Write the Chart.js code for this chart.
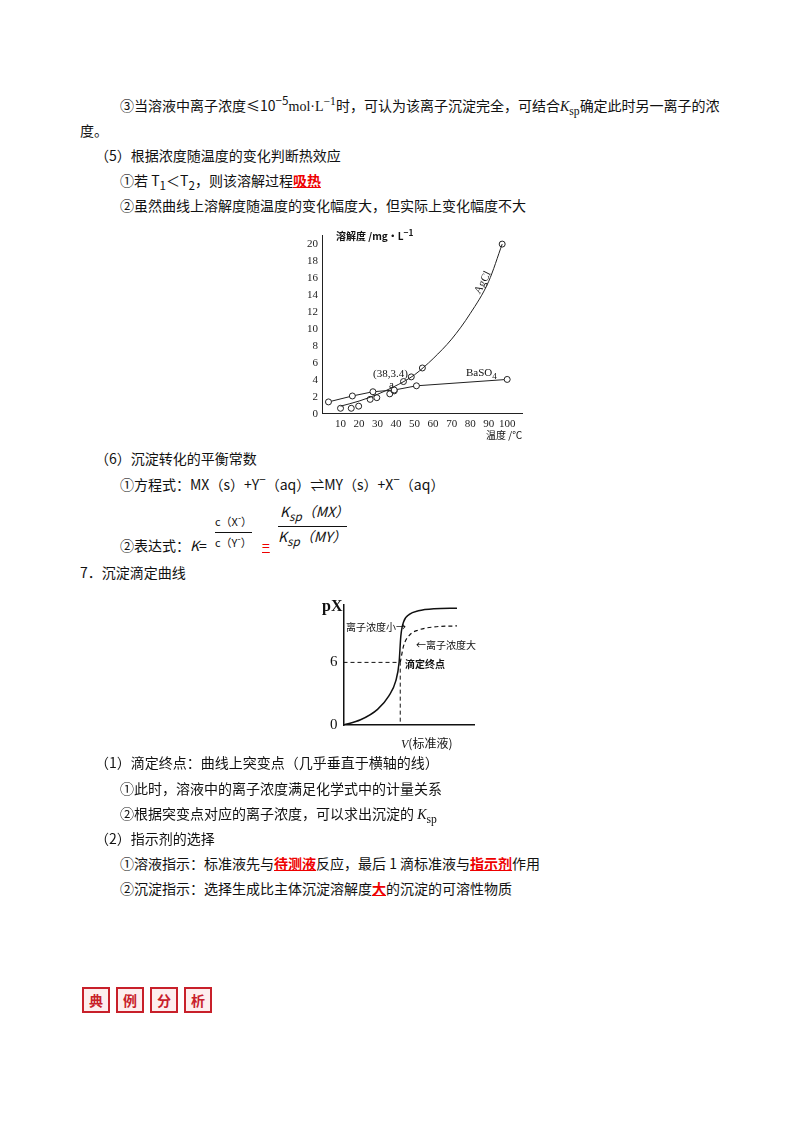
<!DOCTYPE html>
<html lang="zh">
<head>
<meta charset="UTF-8">
<title>沉淀溶解平衡</title>
<script src="https://cdn.jsdelivr.net/npm/chart.js"></script>
<style>
  body { margin: 0; width: 800px; height: 1132px; background: #fff; position: relative;
    font-family: "Noto Sans CJK SC", "DejaVu Serif", serif; font-size: 14px; color: #111; }
  .t { position: absolute; line-height: 18px; white-space: nowrap; }
  .red { color: #e00; font-weight: bold; text-decoration: underline; }
  .sm { font-family: "Liberation Serif", serif; }
  sup, sub { line-height: 0; }
  .box { position: absolute; }
  .lbl { position: absolute; font-family: "Liberation Serif", serif; font-size: 11px; white-space: nowrap; }
  .ann { position: absolute; font-size: 10px; white-space: nowrap; }
  .badge { display: inline-block; width: 24px; height: 22px; border: 2px solid #c8202a; color: #c8202a;
    font-weight: bold; text-align: center; line-height: 22px; margin-right: 6px; background: #fdeeee; }
</style>
</head>
<body>
<div class="t" style="left:120px;top:96px">③当溶液中离子浓度≤10<sup>−5</sup><span class="sm">mol·L<sup>−1</sup></span>时，可认为该离子沉淀完全，可结合<i class="sm">K</i><sub class="sm">sp</sub>确定此时另一离子的浓</div>
<div class="t" style="left:80px;top:121px">度。</div>
<div class="t" style="left:95px;top:146px">（5）根据浓度随温度的变化判断热效应</div>
<div class="t" style="left:120px;top:171px">①若 T<sub>1</sub>＜T<sub>2</sub>，则该溶解过程<span class="red">吸热</span></div>
<div class="t" style="left:120px;top:196px">②虽然曲线上溶解度随温度的变化幅度大，但实际上变化幅度不大</div>

<div class="box" style="left:300px;top:228px;width:240px;height:218px"><canvas id="solChart"></canvas></div>
<div class="ann" style="left:336px;top:228px;font-weight:bold">溶解度 /mg·L<sup>−1</sup></div>
<div class="ann" style="left:486px;top:427px">温度 /℃</div>
<div class="lbl" style="left:470px;top:276px;transform:rotate(-62deg)">AgCl</div>
<div class="lbl" style="left:466px;top:366px">BaSO<sub>4</sub></div>
<div class="lbl" style="left:373px;top:367px">(38,3.4)</div>
<div class="lbl" style="left:389px;top:378px">a</div>

<div class="t" style="left:95px;top:449px">（6）沉淀转化的平衡常数</div>
<div class="t" style="left:120px;top:475px">①方程式：MX（s）+Y<sup>−</sup>（aq）⇌MY（s）+X<sup>−</sup>（aq）</div>
<div class="t" style="left:215px;top:512px;font-size:11px">c（X<sup>-</sup>）</div>
<div class="t" style="left:120px;top:536px">②表达式：<i>K</i>=</div>
<div class="t" style="left:215px;top:532px;font-size:11px;border-top:1px solid #111">c（Y<sup>-</sup>）</div>
<div class="t" style="left:262px;top:536px;color:#e00;text-decoration:underline">=</div>
<div class="t" style="left:280px;top:502px;font-style:italic">K<sub>sp</sub>（MX）</div>
<div class="t" style="left:278px;top:526px;font-style:italic;border-top:1px solid #111">K<sub>sp</sub>（MY）</div>

<div class="t" style="left:80px;top:563px">7．沉淀滴定曲线</div>
<div class="box" style="left:324px;top:590px;width:156px;height:150px"><canvas id="titChart"></canvas></div>
<div class="t" style="left:322px;top:597px;font-family:'Liberation Serif',serif;font-weight:bold;font-size:16px">pX</div>
<div class="t" style="left:401px;top:734px;font-size:12px"><i class="sm">V</i>(标准液)</div>
<div class="ann" style="left:346px;top:619px">离子浓度小→</div>
<div class="ann" style="left:416px;top:637px">←离子浓度大</div>
<div class="ann" style="left:405px;top:656px;font-weight:bold">滴定终点</div>

<div class="t" style="left:95px;top:753px">（1）滴定终点：曲线上突变点（几乎垂直于横轴的线）</div>
<div class="t" style="left:120px;top:779px">①此时，溶液中的离子浓度满足化学式中的计量关系</div>
<div class="t" style="left:120px;top:804px">②根据突变点对应的离子浓度，可以求出沉淀的 <i class="sm">K</i><sub class="sm">sp</sub></div>
<div class="t" style="left:95px;top:829px">（2）指示剂的选择</div>
<div class="t" style="left:120px;top:854px">①溶液指示：标准液先与<span class="red">待测液</span>反应，最后 1 滴标准液与<span class="red">指示剂</span>作用</div>
<div class="t" style="left:120px;top:879px">②沉淀指示：选择生成比主体沉淀溶解度<span class="red">大</span>的沉淀的可溶性物质</div>

<div class="t" style="left:82px;top:987px;line-height:26px"><span class="badge">典</span><span class="badge">例</span><span class="badge">分</span><span class="badge">析</span></div>

<script>
// solubility vs temperature
const baso4T = [3.5, 16.4, 27.5, 39, 51, 100];
const baso4S = [1.4, 2.1, 2.6, 2.8, 3.3, 4.05];
const agclPtT = [10, 15.8, 19.8, 26, 29.6, 36.6, 39, 44, 48.2, 54.2, 97.3];
const agclPtS = [0.65, 0.65, 0.9, 1.7, 1.9, 2.35, 2.7, 3.8, 4.35, 5.4, 20];
const agclCurveT = [10, 20, 30, 38, 45, 50, 55, 60, 70, 80, 90, 97.3];
const agclCurveS = [0.9, 1.5, 2.3, 3.1, 3.9, 4.6, 5.5, 6.5, 8.8, 11.8, 15.6, 20];
const yTicks = [0, 2, 4, 6, 8, 10, 12, 14, 16, 18, 20];
const xTicks = [10, 20, 30, 40, 50, 60, 70, 80, 90, 100];

// titration curves
const solidV = [0, 1.5, 3, 4, 4.6, 4.9, 5.05, 5.3, 5.8, 6.6, 8, 10];
const solidPX = [0, 0.5, 1.5, 2.8, 4.2, 6, 8.5, 9.9, 10.6, 10.95, 11.15, 11.2];
const dashV = [5, 5.3, 5.8, 6.6, 8, 10];
const dashPX = [6, 7.6, 8.6, 9.1, 9.4, 9.5];
const pxTicks = [0, 6];
const endV = 5, endPX = 6;

const pts = (xs, ys) => xs.map((x, i) => ({ x: x, y: ys[i] }));
const tickFont = { family: 'Liberation Serif', size: 11 };

new Chart(document.getElementById('solChart'), {
  type: 'scatter',
  data: { datasets: [
    { data: pts(baso4T, baso4S), showLine: true, borderColor: '#222', borderWidth: 1,
      pointRadius: 3, pointBackgroundColor: '#fff', pointBorderColor: '#222' },
    { data: pts(agclCurveT, agclCurveS), showLine: true, borderColor: '#222', borderWidth: 1,
      cubicInterpolationMode: 'monotone', pointRadius: 0 },
    { data: pts(agclPtT, agclPtS), showLine: false, pointRadius: 3,
      pointBackgroundColor: '#fff', pointBorderColor: '#222' }
  ]},
  options: {
    responsive: true, maintainAspectRatio: false, animation: false,
    layout: { padding: { top: 6, right: 18, bottom: 14, left: 6 } },
    plugins: { legend: { display: false }, tooltip: { enabled: false } },
    scales: {
      x: { min: 0, max: 108, grid: { display: false, drawTicks: true, tickLength: 3 },
        border: { color: '#222' },
        afterBuildTicks: s => { s.ticks = xTicks.map(v => ({ value: v })); },
        ticks: { color: '#222', font: tickFont, padding: 1, maxRotation: 0 } },
      y: { min: 0, max: 21, grid: { display: false, tickLength: 3 }, border: { color: '#222' },
        afterBuildTicks: s => { s.ticks = yTicks.map(v => ({ value: v })); },
        ticks: { color: '#222', font: tickFont, padding: 1 } }
    }
  }
});

new Chart(document.getElementById('titChart'), {
  type: 'scatter',
  data: { datasets: [
    { data: pts(solidV, solidPX), showLine: true, borderColor: '#111', borderWidth: 1.5,
      cubicInterpolationMode: 'monotone', pointRadius: 0 },
    { data: pts(dashV, dashPX), showLine: true, borderColor: '#111', borderWidth: 1.2, borderDash: [4, 3],
      cubicInterpolationMode: 'monotone', pointRadius: 0 },
    { data: [{ x: 0, y: endPX }, { x: endV, y: endPX }, { x: endV, y: 0 }], showLine: true,
      borderColor: '#111', borderWidth: 1, borderDash: [4, 3], pointRadius: 0 }
  ]},
  options: {
    responsive: true, maintainAspectRatio: false, animation: false,
    layout: { padding: { top: 6, right: 6 } },
    plugins: { legend: { display: false }, tooltip: { enabled: false } },
    scales: {
      x: { min: 0, max: 11.5, grid: { display: false }, border: { color: '#111', width: 1.5 },
        afterBuildTicks: s => { s.ticks = []; }, ticks: { display: false } },
      y: { min: 0, max: 11.5, grid: { display: false, drawTicks: false }, border: { color: '#111', width: 1.5 },
        afterBuildTicks: s => { s.ticks = pxTicks.map(v => ({ value: v })); },
        ticks: { color: '#111', font: { family: 'Liberation Serif', size: 15 }, padding: 6 } }
    }
  }
});
</script>
</body>
</html>
